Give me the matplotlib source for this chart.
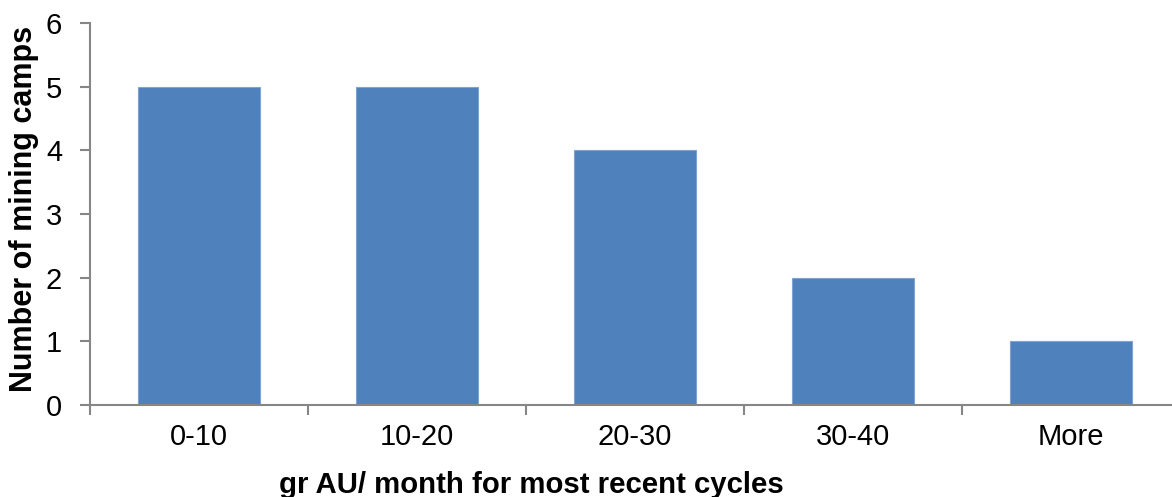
import matplotlib
matplotlib.use("Agg")
import matplotlib.pyplot as plt
import numpy as np

categories = ["0-10", "10-20", "20-30", "30-40", "More"]
camps = [5, 5, 4, 2, 1]
y_ticks = [0, 1, 2, 3, 4, 5, 6]

plt.rcParams['font.family'] = ['Liberation Sans', 'DejaVu Sans']

W, H = 1172, 497
fig = plt.figure(figsize=(W / 100, H / 100), dpi=100)
ax = fig.add_axes([90 / W, 1 - 405 / H, 1090 / W, 382 / H])

axis_grey = '#868686'
x = np.arange(len(categories))
ax.bar(x, camps, width=0.56, color='#4F81BD', edgecolor='#7FA3D3', linewidth=0.8, zorder=2)

ax.set_xlim(-0.5, len(categories) - 0.5)
ax.set_ylim(0, 6)
ax.set_yticks(y_ticks)
ax.set_yticklabels([str(t) for t in y_ticks])

# category labels sit between the boundary ticks
ax.set_xticks(np.arange(-0.5, len(categories), 1.0))
ax.set_xticklabels([])
ax.set_xticks(x, minor=True)
ax.set_xticklabels(categories, minor=True)
ax.tick_params(axis='x', which='minor', length=0, pad=13, labelsize=21)
ax.tick_params(axis='x', which='major', length=7, width=1.5, color=axis_grey, direction='out')
ax.tick_params(axis='y', length=7, width=1.5, color=axis_grey, direction='out', pad=13, labelsize=21)

for side in ['top', 'right']:
    ax.spines[side].set_visible(False)
for side in ['left', 'bottom']:
    ax.spines[side].set_color(axis_grey)
    ax.spines[side].set_linewidth(1.5)

fig.text(24.5 / W, 1 - 209 / H, "Number of mining camps", rotation=90,
         family=['Liberation Sans Narrow', 'Liberation Sans'],
         fontsize=22, fontweight='bold', ha='center', va='center')
fig.text(531 / W, 1 - 493 / H, "gr AU/ month for most recent cycles",
         fontsize=21.2, fontweight='bold', ha='center', va='baseline')

fig.savefig("out.png", dpi=100)
